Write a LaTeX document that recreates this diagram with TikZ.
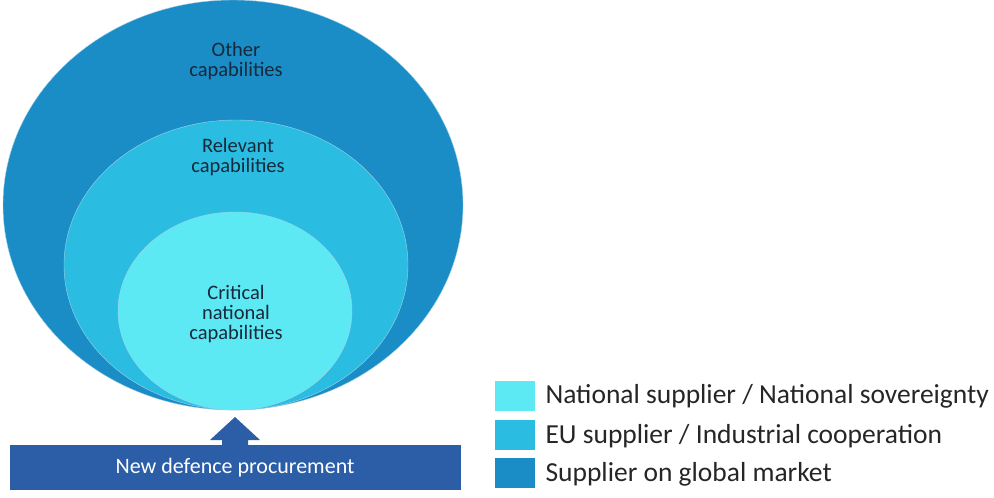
\documentclass[tikz,border=0pt]{standalone}
\usepackage{fontspec}
\setmainfont{Carlito}
\definecolor{globalblue}{HTML}{1A8DC6}
\definecolor{eublue}{HTML}{2ABDE1}
\definecolor{natblue}{HTML}{5DE9F3}
\definecolor{barblue}{HTML}{2B5EA6}
\definecolor{labelink}{HTML}{17293A}
\tikzset{
  ring/.style={draw=white!60!globalblue, line width=0.4pt},
  ringtext/.style={align=center, text=labelink, font=\fontsize{20.5}{20}\selectfont},
  keybox/.style={minimum width=40pt, minimum height=30pt, inner sep=0pt},
  keytext/.style={anchor=west, text=black!85, font=\fontsize{27.5}{27.5}\selectfont}
}
\begin{document}
\begin{tikzpicture}[x=1pt, y=-1pt]
  \useasboundingbox (0,0) rectangle (994,498);
  % capability rings
  \draw[ring, fill=globalblue] (233,205) ellipse (230 and 205);
  \draw[ring, fill=eublue] (236,265) ellipse (172 and 145);
  \draw[ring, fill=natblue] (235,311) ellipse (117 and 99);
  \node[ringtext] (other) at (236,61) {Other\\capabilities};
  \node[ringtext] (relevant) at (238,157) {Relevant\\capabilities};
  \node[ringtext] (critical) at (236,314) {Critical\\national\\capabilities};
  % procurement bar
  \node[fill=barblue, minimum width=451pt, minimum height=45pt, inner sep=0pt,
        text=white, font=\fontsize{22}{22}\selectfont] (bar) at (235,467.5) {New defence procurement};
  \coordinate (tip) at (235,417);
  \fill[barblue] (222,445) -- (222,440) -- (210,440) -- (tip)
    -- (260,440) -- (248,440) -- (248,445) -- cycle;
  % legend
  \node[keybox, fill=natblue] (k1) at (515,396) {};
  \node[keybox, fill=eublue] (k2) at (515,435) {};
  \node[keybox, fill=globalblue] (k3) at (515,473) {};
  \node[keytext] (t1) at (542,396) {National supplier / National sovereignty};
  \node[keytext] (t2) at (542,436) {EU supplier / Industrial cooperation};
  \node[keytext] (t3) at (542,474) {Supplier on global market};
\end{tikzpicture}
\end{document}
